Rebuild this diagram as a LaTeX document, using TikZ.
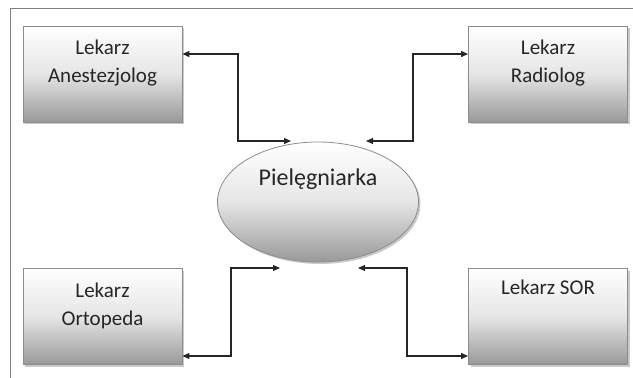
\documentclass[tikz,border=0pt]{standalone}
\usepackage{fontspec}
\setmainfont{Carlito}
\usetikzlibrary{arrows.meta,shapes.geometric,shadows,calc}
\definecolor{txt}{HTML}{262626}
\definecolor{edge}{HTML}{8C8C8C}
\definecolor{frm}{HTML}{808080}
\tikzset{
  gshade/.style={top color=white, bottom color=black!40, middle color=black!10, draw=edge, line width=0.8pt,
    drop shadow={shadow xshift=2pt, shadow yshift=-2pt, fill=black!35, opacity=0.6}},
  docbox/.style={gshade, rectangle, minimum width=159pt, minimum height=96pt, inner sep=0pt},
  nurse/.style={gshade, ellipse, minimum width=201pt, minimum height=120pt, inner sep=0pt},
  lbl/.style={text=txt, font=\fontsize{21}{28}\selectfont, align=center, inner sep=0pt, anchor=base},
  biglbl/.style={text=txt, font=\fontsize{24}{29}\selectfont, inner sep=0pt, anchor=base},
  dbl/.style={{Triangle[length=7pt,width=6pt]}-{Triangle[length=7pt,width=6pt]}, draw=txt, line width=1.1pt}
}
\begin{document}
\begin{tikzpicture}[x=1pt,y=-1pt]
\useasboundingbox (0,0) rectangle (633,378);
\draw[frm, line width=1pt] (10,378) -- (10,8) -- (633,8);

\node[docbox] (ane) at (102.5,74) {};
\node[docbox] (rad) at (548,74) {};
\node[docbox] (ort) at (102.5,316.5) {};
\node[docbox] (sor) at (548,316.5) {};
\node[nurse] (piel) at (318,202) {};

\node[lbl] (aneT) at ($(ane.north)+(0,57)$) {Lekarz\\Anestezjolog};
\node[lbl] (radT) at ($(rad.north)+(0,57)$) {Lekarz\\Radiolog};
\node[lbl] (ortT) at ($(ort.north)+(0,57)$) {Lekarz\\Ortopeda};
\node[lbl] (sorT) at ($(sor.north)+(0,26)$) {Lekarz SOR};
\node[biglbl] (pielT) at ($(piel.center)+(0,-17)$) {Pielęgniarka};

\coordinate (a1) at (291,141);
\coordinate (a2) at (366,141);
\coordinate (a3) at (280,268);
\coordinate (a4) at (358,268);

\draw[dbl] ([yshift=20pt]ane.east) -- (238,54) |- (a1);
\draw[dbl] ([yshift=20pt]rad.west) -- (413,54) |- (a2);
\draw[dbl] ([yshift=-39.5pt]ort.east) -- (231,356) |- (a3);
\draw[dbl] ([yshift=-39.5pt]sor.west) -- (407,356) |- (a4);
\end{tikzpicture}
\end{document}
